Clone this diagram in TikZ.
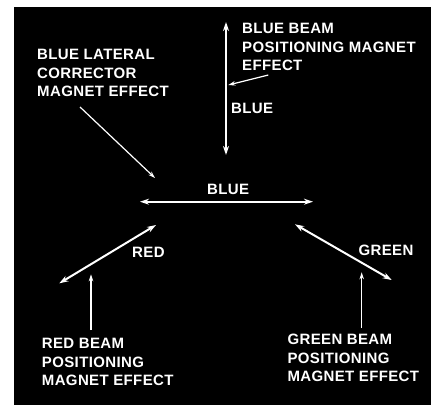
\documentclass[tikz,border=0pt]{standalone}
\usepackage{fontspec}
\setmainfont{Liberation Sans}[LetterSpace=2.5]
\usetikzlibrary{arrows.meta}
\begin{document}
\begin{tikzpicture}[x=1pt,y=-1pt,
  lbl/.style={text=white, font=\fontsize{15}{18.4}\selectfont\bfseries, inner sep=0pt, align=left, anchor=north west},
  beam/.style={draw=white, line width=2pt, {Stealth[length=9pt,width=6pt]}-{Stealth[length=9pt,width=6pt]}},
  pointer/.style={draw=white, line width=1.2pt, -{Stealth[length=7pt,width=4.5pt]}}]
\useasboundingbox (0,0) rectangle (434,405);
\fill[white] (0,0) rectangle (434,405);
\fill[black] (14,7) rectangle (431,405);

% text nodes
\node[lbl] (bluebeam) at (242,23.3) {BLUE BEAM\\POSITIONING MAGNET\\EFFECT};
\node[lbl] (lateral) at (37,49.3) {BLUE LATERAL\\CORRECTOR\\MAGNET EFFECT};
\node[lbl] (redbeam) at (41.7,338.3) {RED BEAM\\POSITIONING\\MAGNET EFFECT};
\node[lbl] (greenbeam) at (287.3,334.3) {GREEN BEAM\\POSITIONING\\MAGNET EFFECT};
\node[lbl] (bluev) at (231,103) {BLUE};
\node[lbl] (blueh) at (207,184) {BLUE};
\node[lbl] (red) at (132,246.7) {RED};
\node[lbl] (green) at (358.3,245) {GREEN};

% coordinates
\coordinate (vt) at (226,22);
\coordinate (vb) at (226,155);
\coordinate (hl) at (140,201.7);
\coordinate (hr) at (313,201.7);
\coordinate (rl) at (59.3,283.3);
\coordinate (rr) at (156,225);
\coordinate (gl) at (295,224.3);
\coordinate (gr) at (391.7,280);
\coordinate (p1s) at (268.3,75);
\coordinate (p1e) at (228.3,85);
\coordinate (p2s) at (80,107);
\coordinate (p2e) at (155,178);
\coordinate (p3s) at (91,330);
\coordinate (p3e) at (91,274.3);
\coordinate (p4s) at (361.7,328);
\coordinate (p4e) at (361.7,272.3);

% beams
\draw[beam] (vt) -- (vb);
\draw[beam] (hl) -- (hr);
\draw[beam] (rl) -- (rr);
\draw[beam] (gl) -- (gr);

% pointers
\draw[pointer] (p1s) -- (p1e);
\draw[pointer] (p2s) -- (p2e);
\draw[pointer] (p3s) -- (p3e);
\draw[pointer] (p4s) -- (p4e);
\end{tikzpicture}
\end{document}
